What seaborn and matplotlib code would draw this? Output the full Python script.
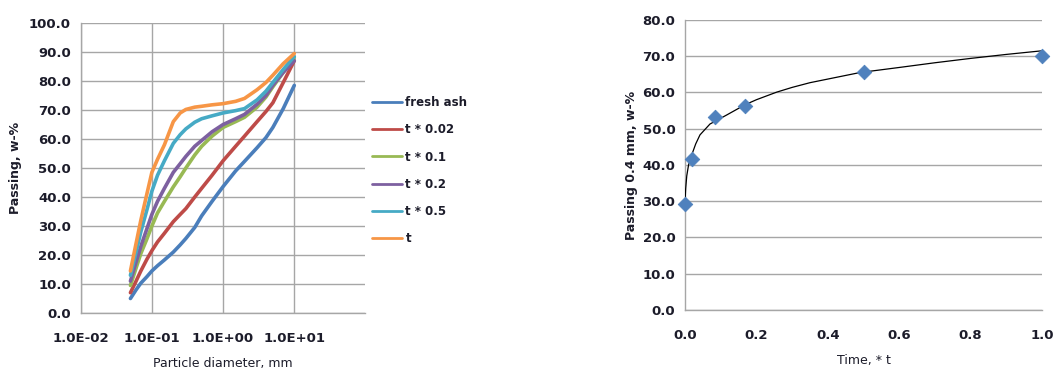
import numpy as np
import pandas as pd
import matplotlib
matplotlib.use("Agg")
import matplotlib.pyplot as plt
import matplotlib.ticker as mticker
import seaborn as sns

# -----------------------------------------------------------------------------
# data
# -----------------------------------------------------------------------------
diameter = [0.05, 0.06, 0.07, 0.085, 0.1, 0.12, 0.15, 0.2, 0.25, 0.3, 0.4, 0.5, 0.7,
            1.0, 1.5, 2.0, 3.0, 4.0, 5.0, 7.0, 10.0]

fresh_ash = [5.0, 8.0, 10.3, 12.5, 14.5, 16.3, 18.3, 21.0, 23.5, 25.7, 29.5, 33.5, 38.5,
             43.6, 49.0, 52.3, 57.0, 60.5, 64.0, 70.5, 78.5]
t_002 = [7.0, 11.0, 14.5, 18.5, 21.5, 24.5, 27.5, 31.5, 34.0, 36.0, 40.0, 43.0, 47.5,
         52.5, 57.5, 61.0, 66.0, 69.5, 72.5, 79.5, 87.0]
t_01 = [9.5, 15.5, 20.5, 25.5, 30.0, 34.5, 38.5, 43.5, 47.0, 50.0, 54.5, 57.5, 61.0,
        64.0, 66.0, 67.5, 71.0, 74.5, 78.0, 83.0, 88.0]
t_02 = [11.0, 17.5, 23.0, 29.0, 34.0, 38.5, 43.0, 48.5, 51.5, 54.0, 57.5, 59.5, 62.5,
        65.0, 67.0, 68.5, 72.0, 75.0, 78.5, 83.0, 87.0]
t_05 = [13.0, 21.0, 28.0, 35.5, 42.0, 47.5, 52.5, 58.5, 61.5, 63.5, 65.8, 67.0, 68.0,
        69.0, 69.8, 70.5, 73.5, 76.5, 79.5, 84.0, 88.5]
t_1 = [14.5, 24.0, 32.0, 41.0, 48.5, 53.0, 58.0, 66.0, 69.0, 70.2, 71.0, 71.3, 71.8,
       72.2, 73.0, 74.0, 77.0, 79.5, 82.0, 86.0, 89.5]

series_names = ["fresh ash", "t * 0.02", "t * 0.1", "t * 0.2", "t * 0.5", "t"]
series_values = [fresh_ash, t_002, t_01, t_02, t_05, t_1]
series_colors = ["#4A7EBB", "#BE4B48", "#98B954", "#7D60A0", "#46AAC5", "#F79646"]

time_t = [0.0, 0.02, 0.083, 0.167, 0.5, 1.0]
passing_04 = [29.2, 41.6, 53.3, 56.2, 65.7, 70.2]

# trend line
trend_t = [0.0, 0.002, 0.005, 0.01, 0.019, 0.03, 0.042, 0.07, 0.117, 0.168, 0.2,
           0.257, 0.3, 0.35, 0.4, 0.49, 0.6, 0.7, 0.8, 0.9, 1.0]
trend_y = [29.5, 33.5, 37.0, 40.0, 42.8, 45.8, 48.3, 51.3, 53.8, 56.6, 58.0,
           60.1, 61.4, 62.7, 63.7, 65.5, 66.9, 68.2, 69.4, 70.5, 71.5]

# -----------------------------------------------------------------------------
# style
# -----------------------------------------------------------------------------
sns.set_style("white")
plt.rcParams["font.family"] = ["DejaVu Sans"]
TEXT = "#1c1c2a"
GRID = "#a6a6a6"

fig = plt.figure(figsize=(10.53, 3.72), dpi=100)
ax1 = fig.add_axes([0.0766, 0.1586, 0.2705, 0.7794])
ax2 = fig.add_axes([0.6505, 0.1667, 0.3391, 0.7796])

# -----------------------------------------------------------------------------
# left chart: grain size curves
# -----------------------------------------------------------------------------
rows = []
for name, vals in zip(series_names, series_values):
    for d, v in zip(diameter, vals):
        rows.append({"diameter": d, "passing": v, "series": name})
df = pd.DataFrame(rows)

sns.lineplot(data=df, x="diameter", y="passing", hue="series",
             hue_order=series_names, palette=series_colors, sort=False,
             linewidth=2.6, ax=ax1, legend=False, zorder=3)

ax1.set_xscale("log")
ax1.set_xlim(0.01, 100)
ax1.set_ylim(0, 100)
ax1.set_xticks([0.01, 0.1, 1, 10])
ax1.set_xticklabels(["1.0E-02", "1.0E-01", "1.0E+00", "1.0E+01"])
ax1.xaxis.set_minor_locator(mticker.LogLocator(base=10, subs=np.arange(2, 10)))
ax1.xaxis.set_minor_formatter(mticker.NullFormatter())
ax1.set_yticks(np.arange(0, 101, 10))
ax1.yaxis.set_major_formatter(mticker.FormatStrFormatter("%.1f"))
ax1.grid(True, which="major", color=GRID, linewidth=1.0)
ax1.set_xlabel("Particle diameter, mm", fontsize=9, color=TEXT, labelpad=8)
ax1.set_ylabel("Passing, w-%", fontsize=9, fontweight="bold", color=TEXT, labelpad=5)

# legend
handles = [plt.Line2D([], [], color=c, linewidth=2.0) for c in series_colors]
fig.legend(handles, series_names, loc="upper left", bbox_to_anchor=(0.343, 0.77),
           frameon=False, handlelength=2.6, handletextpad=0.25, labelspacing=1.2,
           prop={"size": 8.5, "weight": "bold"}, labelcolor=TEXT)

# -----------------------------------------------------------------------------
# right chart: passing 0.4 mm vs time
# -----------------------------------------------------------------------------
df_pts = pd.DataFrame({"time": time_t, "passing": passing_04})
df_trend = pd.DataFrame({"time": trend_t, "passing": trend_y})

sns.lineplot(data=df_trend, x="time", y="passing", color="black", linewidth=0.9,
             sort=False, ax=ax2, zorder=3)
sns.scatterplot(data=df_pts, x="time", y="passing", marker="D", s=55,
                color="#4F81BD", edgecolor="#4F81BD", ax=ax2, zorder=4, clip_on=False)

ax2.set_xlim(0, 1.0)
ax2.set_ylim(0, 80)
ax2.set_xticks(np.arange(0, 1.01, 0.2))
ax2.xaxis.set_major_formatter(mticker.FormatStrFormatter("%.1f"))
ax2.set_yticks(np.arange(0, 81, 10))
ax2.yaxis.set_major_formatter(mticker.FormatStrFormatter("%.1f"))
ax2.grid(True, axis="y", color=GRID, linewidth=1.0)
ax2.grid(False, axis="x")
ax2.set_xlabel("Time, * t", fontsize=9, color=TEXT, labelpad=8)
ax2.set_ylabel("Passing 0.4 mm, w-%", fontsize=9, fontweight="bold", color=TEXT, labelpad=3)

for ax in (ax1, ax2):
    for side in ("top", "right"):
        ax.spines[side].set_visible(False)
    for side in ("left", "bottom"):
        ax.spines[side].set_color(GRID)
        ax.spines[side].set_linewidth(1.0)
    ax.tick_params(axis="both", which="major", direction="out", length=4, width=1.0,
                   color=GRID, labelsize=9.5, labelcolor=TEXT, pad=3)
    ax.tick_params(axis="both", which="minor", direction="out", length=3, width=0.8,
                   color=GRID)
    ax.tick_params(axis="x", which="major", pad=10)
    for lab in ax.get_xticklabels() + ax.get_yticklabels():
        lab.set_fontweight("bold")

fig.savefig("out.png", dpi=100)
